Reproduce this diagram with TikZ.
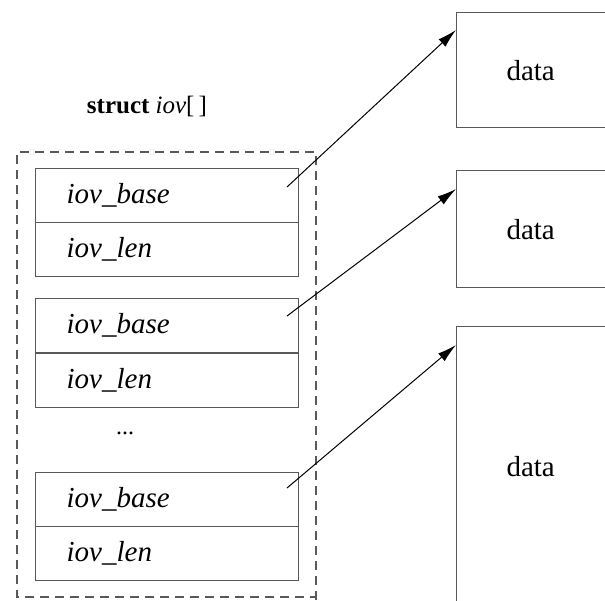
\documentclass[tikz,border=0pt]{standalone}
\usepackage{fontspec}
\setmainfont{Liberation Serif}
\usetikzlibrary{arrows.meta}
\begin{document}
\begin{tikzpicture}[x=1pt,y=-1pt,
  ln/.style={draw=black!65,line width=1.3pt},
  cell/.style={ln,minimum width=263pt,minimum height=54pt,inner sep=0pt,anchor=north west,text width=201pt,align=left,font=\fontsize{29}{29}\selectfont\itshape},
  databox/.style={ln,minimum width=170pt,inner sep=0pt,anchor=north west,font=\fontsize{29}{29}\selectfont},
  ptr/.style={draw=black,line width=1pt,-{Latex[length=19pt,width=10pt]}}]
\useasboundingbox (0,0) rectangle (605,600);
% outer dashed array
\draw[draw=black!65,line width=1.4pt,dash pattern=on 9pt off 6pt] (316,600) -- (316,152) -- (17,152) -- (17,597) -- (316,597);
\node[font=\fontsize{25}{25}\selectfont] (title) at (147,106) {\textbf{struct} \textit{iov}[\,]};
% cells
\node[cell] (b1) at (35,168) {iov\_base};
\node[cell] (l1) at (35,222) {iov\_len};
\node[cell] (b2) at (35,298) {iov\_base};
\node[cell] (l2) at (35,353) {iov\_len};
\node[font=\fontsize{24}{24}\selectfont] (dots) at (125,433) {...};
\node[cell] (b3) at (35,472) {iov\_base};
\node[cell] (l3) at (35,526) {iov\_len};
% data boxes
\node[databox,minimum height=115pt] (d1) at (456,12) {\hspace*{-22pt}data};
\node[databox,minimum height=117pt] (d2) at (456,170) {\hspace*{-22pt}data};
\node[databox,minimum height=280pt] (d3) at (456,326) {\hspace*{-22pt}data};
% pointer ends
\coordinate (s1) at (287,187);
\coordinate (s2) at (287,316);
\coordinate (s3) at (287,488);
\coordinate (e1) at ([yshift=-18pt]d1.north west);
\coordinate (e2) at ([yshift=-19pt]d2.north west);
\coordinate (e3) at ([yshift=-19pt]d3.north west);
\draw[ptr] (s1) -- (e1);
\draw[ptr] (s2) -- (e2);
\draw[ptr] (s3) -- (e3);
\end{tikzpicture}
\end{document}
